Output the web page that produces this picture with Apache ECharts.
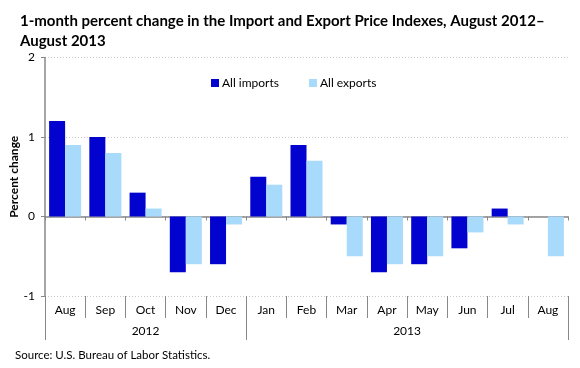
<!DOCTYPE html>
<html><head><meta charset="utf-8">
<script src="https://cdn.jsdelivr.net/npm/echarts@6/dist/echarts.min.js"></script>
<style>html,body{margin:0;padding:0;background:#fff}#c{width:580px;height:368px}</style>
</head><body><div id="c"></div>
<script>
const months = ['Aug','Sep','Oct','Nov','Dec','Jan','Feb','Mar','Apr','May','Jun','Jul','Aug'];
const years = ['2012','2013'];
const yearStarts = [0, 5, 13];
const imports = [1.2, 1.0, 0.3, -0.7, -0.6, 0.5, 0.9, -0.1, -0.7, -0.6, -0.4, 0.1, null];
const exportsV = [0.9, 0.8, 0.1, -0.6, -0.1, 0.4, 0.7, -0.5, -0.6, -0.5, -0.2, -0.1, -0.5];
const yTicks = [-1, 0, 1, 2];

const FONT = 'Lato';
const yearCenters = years.map((y, i) => (yearStarts[i] + yearStarts[i + 1]) / 2);
const chart = echarts.init(document.getElementById('c'));
chart.setOption({
  animation: false,
  textStyle: { fontFamily: FONT },
  title: {
    text: '1-month percent change in the Import and Export Price Indexes, August 2012–\nAugust 2013',
    left: 15, top: 6,
    textStyle: { fontFamily: FONT, fontWeight: 'bold', fontSize: 15, color: '#000', lineHeight: 20 }
  },
  legend: {
    top: 72, left: 206, itemWidth: 8, itemHeight: 8, itemGap: 30,
    icon: 'rect',
    textStyle: { fontFamily: FONT, fontSize: 12, color: '#000', padding: [0, 0, 0, -2] },
    data: ['All imports', 'All exports']
  },
  graphic: [{
    type: 'text', left: 15, top: 349,
    style: { text: 'Source: U.S. Bureau of Labor Statistics.', font: '11.5px Lato', fill: '#000' }
  }],
  grid: { left: 45, right: 12, top: 57.5, bottom: 72, outerBoundsMode: 'none', containLabel: false },
  xAxis: [
    {
      type: 'category', data: months, boundaryGap: true,
      axisLine: { onZero: true, lineStyle: { color: '#888', width: 1.5 } },
      axisTick: { show: true, length: 4, lineStyle: { color: '#888' } },
      axisLabel: { show: false }
    },
    {
      type: 'category', data: months, boundaryGap: true, position: 'bottom',
      axisLine: { show: false, onZero: false },
      axisTick: { show: true, length: 22, lineStyle: { color: '#888' } },
      axisLabel: { show: true, margin: 8, fontSize: 12, color: '#000', fontFamily: FONT }
    },
    {
      type: 'value', min: 0, max: months.length, position: 'bottom',
      axisLine: { show: false, onZero: false },
      splitLine: { show: false },
      axisTick: { show: true, length: 44, customValues: yearStarts, lineStyle: { color: '#888' } },
      axisLabel: {
        show: true, margin: 29, fontSize: 12, color: '#000', fontFamily: FONT,
        customValues: yearCenters,
        formatter: v => years[yearCenters.indexOf(v)] || ''
      }
    }
  ],
  yAxis: {
    type: 'value', min: -1, max: 2, interval: 1,
    name: 'Percent change', nameLocation: 'middle', nameGap: 25, nameRotate: 90,
    nameMoveOverlap: false,
    nameTextStyle: { fontFamily: FONT, fontWeight: 'bold', fontSize: 12, color: '#000' },
    axisLine: { show: true, lineStyle: { color: '#888', width: 1.5 } },
    axisTick: { show: true, length: 4, lineStyle: { color: '#888' } },
    axisLabel: { fontSize: 12, color: '#000', margin: 10, formatter: v => yTicks.includes(v) ? String(v) : '' },
    splitLine: { show: true, lineStyle: { color: '#ccc', type: [1, 2] } }
  },
  series: [
    { name: 'All imports', type: 'bar', data: imports, barWidth: 16, barGap: '0%',
      itemStyle: { color: '#0303CF' } },
    { name: 'All exports', type: 'bar', data: exportsV, barWidth: 16,
      itemStyle: { color: '#A8DAFC' } }
  ]
});
</script></body></html>
